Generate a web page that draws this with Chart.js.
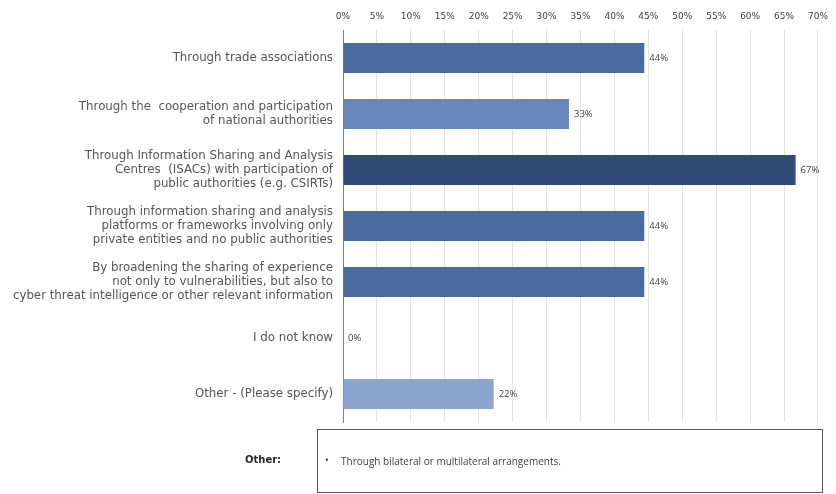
<!DOCTYPE html>
<html>
<head>
<meta charset="utf-8">
<script src="https://cdn.jsdelivr.net/npm/chart.js@4/dist/chart.umd.min.js"></script>
<style>
  html, body { margin: 0; padding: 0; background: #ffffff; }
  #wrap { position: relative; width: 836px; height: 494px; }
  #c { position: absolute; left: 0; top: 0; }
  .note { position: absolute; font-family: "Open Sans", sans-serif; font-size: 10px; color: #404040; white-space: nowrap; }
  #otherLbl { left: 245px; top: 454px; color: #262626; font-family: "DejaVu Sans", sans-serif; font-size: 10px; font-weight: 600; }
  #box { position: absolute; left: 317px; top: 429px; width: 506px; height: 64px; border: 1px solid #595959; box-sizing: border-box; }
  #bullet { left: 325px; top: 453px; }
  #otherTxt { left: 341px; top: 454px; }
</style>
</head>
<body>
<div id="wrap">
  <canvas id="c" width="836" height="494"></canvas>
  <div id="box"></div>
  <div class="note" id="otherLbl">Other:</div>
  <div class="note" id="bullet">•</div>
  <div class="note" id="otherTxt">Through bilateral or multilateral arrangements.</div>
</div>
<script>
const categories = [
  ["Through trade associations"],
  ["Through the  cooperation and participation", "of national authorities"],
  ["Through Information Sharing and Analysis", "Centres  (ISACs) with participation of", "public authorities (e.g. CSIRTs)"],
  ["Through information sharing and analysis", "platforms or frameworks involving only", "private entities and no public authorities"],
  ["By broadening the sharing of experience", "not only to vulnerabilities, but also to", "cyber threat intelligence or other relevant information"],
  ["I do not know"],
  ["Other - (Please specify)"]
];
const values = [44.4, 33.3, 66.7, 44.4, 44.4, 0, 22.2];
const valueLabels = ["44%", "33%", "67%", "44%", "44%", "0%", "22%"];
const barColors = ["#4a6b9f", "#6787bd", "#2f4a76", "#4a6b9f", "#4a6b9f", "#4a6b9f", "#8ca5cf"];
const tickMax = 70;
const tickStep = 5;

const valueLabelPlugin = {
  id: "valueLabels",
  afterDatasetsDraw(chart) {
    const ctx = chart.ctx;
    const meta = chart.getDatasetMeta(0);
    ctx.save();
    ctx.font = "9.5px 'Open Sans', sans-serif";
    ctx.fillStyle = "#404040";
    ctx.textAlign = "left";
    ctx.textBaseline = "middle";
    meta.data.forEach((bar, i) => {
      ctx.fillText(valueLabels[i], bar.x + 5, bar.y);
    });
    ctx.restore();
  }
};

new Chart(document.getElementById("c"), {
  type: "bar",
  data: {
    labels: categories,
    datasets: [{
      data: values,
      backgroundColor: barColors,
      borderWidth: 0,
      categoryPercentage: 1.0,
      barPercentage: 0.54
    }]
  },
  options: {
    indexAxis: "y",
    responsive: false,
    animation: false,
    events: [],
    layout: { padding: { left: 0, right: 13, top: 0, bottom: 72 } },
    plugins: { legend: { display: false }, tooltip: { enabled: false } },
    scales: {
      x: {
        position: "top",
        min: 0,
        max: tickMax,
        ticks: {
          stepSize: tickStep,
          padding: 8,
          maxRotation: 0,
          autoSkip: false,
          color: "#404040",
          font: { family: "'DejaVu Sans', sans-serif", size: 9 },
          callback: v => v + "%"
        },
        grid: { color: "#e4e4e4", drawTicks: false },
        border: { display: false },
        afterFit: s => { s.height = 30; }
      },
      y: {
        ticks: {
          padding: 10,
          color: "#555555",
          autoSkip: false,
          font: { family: "'DejaVu Sans', sans-serif", size: 11.8, lineHeight: 1.2 }
        },
        grid: { display: false, drawTicks: false },
        border: { display: true, color: "#7f7f7f", width: 1 },
        afterFit: s => { s.width = 343; }
      }
    }
  },
  plugins: [valueLabelPlugin]
});
</script>
</body>
</html>
